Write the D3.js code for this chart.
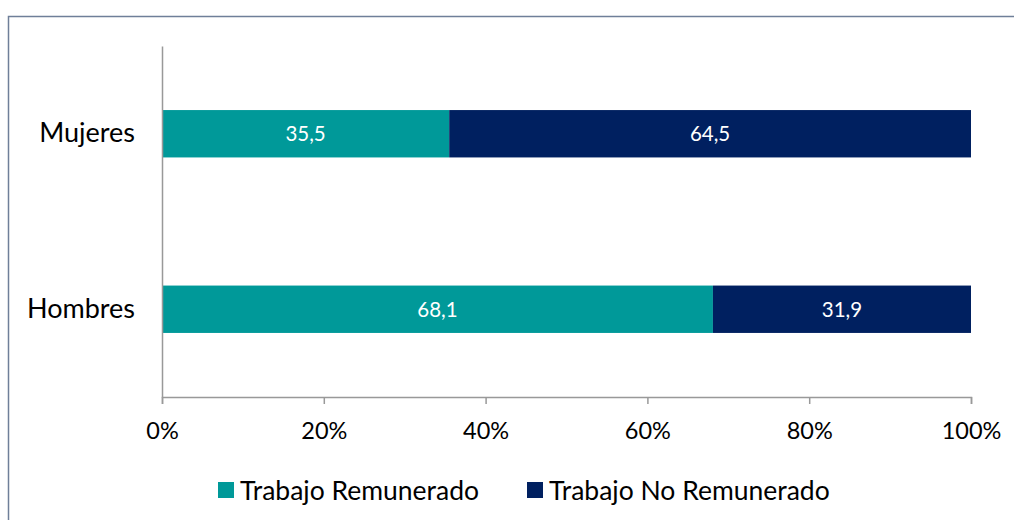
<!DOCTYPE html>
<html>
<head>
<meta charset="utf-8">
<script src="https://cdn.jsdelivr.net/npm/d3@7"></script>
<style>
  body { margin: 0; background: #fff; }
  text { font-family: Lato, "Open Sans", sans-serif; }
</style>
</head>
<body>
<div id="chart"></div>
<script>
// data
var categories = ["Mujeres", "Hombres"];
var seriesNames = ["Trabajo Remunerado", "Trabajo No Remunerado"];
var remunerado = [35.5, 68.1];
var noRemunerado = [64.5, 31.9];
var tickValues = [0, 0.2, 0.4, 0.6, 0.8, 1];
var colors = ["#009999", "#002060"];

var W = 1014, H = 520;
var margin = {top: 46, right: 43, bottom: 123, left: 162},
    width = W - margin.left - margin.right,
    height = H - margin.top - margin.bottom;

var svg = d3.select("#chart").append("svg")
    .attr("width", W)
    .attr("height", H);

// outer frame (right and bottom run off the picture)
svg.append("rect")
    .attr("x", 8.5).attr("y", 16.5)
    .attr("width", W + 20).attr("height", H + 20)
    .attr("fill", "none")
    .attr("stroke", "#6f7f99")
    .attr("stroke-width", 1.5);

var g = svg.append("g")
    .attr("transform", "translate(" + margin.left + "," + margin.top + ")");

var x = d3.scaleLinear().domain([0, 1]).range([0, width]);
var y = d3.scaleBand().domain(categories).range([0, height]).paddingInner(0.73).paddingOuter(0.365);

// build the stacked rows
var rows = categories.map(function(c, i) {
  return {cat: c, a: remunerado[i], b: noRemunerado[i]};
});
var stack = d3.stack().keys(["a", "b"]).offset(d3.stackOffsetExpand);
var layers = stack(rows);

var layer = g.selectAll(".layer")
    .data(layers)
  .enter().append("g")
    .attr("fill", function(d, i) { return colors[i]; });

layer.selectAll("rect")
    .data(function(d) { return d; })
  .enter().append("rect")
    .attr("x", function(d) { return x(d[0]); })
    .attr("y", function(d) { return y(d.data.cat); })
    .attr("width", function(d) { return x(d[1]) - x(d[0]); })
    .attr("height", y.bandwidth());

layer.each(function(L) {
  d3.select(this).selectAll("text")
    .data(L)
  .enter().append("text")
    .attr("x", function(d) { return (x(d[0]) + x(d[1])) / 2; })
    .attr("y", function(d) { return y(d.data.cat) + y.bandwidth() / 2; })
    .attr("dy", "0.36em")
    .attr("text-anchor", "middle")
    .attr("fill", "#fff")
    .style("font-size", "20.5px")
    .text(function(d) { return d.data[L.key].toFixed(1).replace(".", ","); });
});

// x axis
var xAxis = g.append("g")
    .attr("transform", "translate(0," + height + ")")
    .call(d3.axisBottom(x).tickValues(tickValues).tickSize(7).tickPadding(18)
      .tickFormat(function(d) { return Math.round(d * 100) + "%"; }));
xAxis.select(".domain").attr("stroke", "#999").attr("stroke-width", 1.5);
xAxis.selectAll(".tick line").attr("stroke", "#999").attr("stroke-width", 1.5);
xAxis.selectAll("text").attr("fill", "#000").style("font-size", "23.5px")
    .style("font-family", "Lato, sans-serif");

// y axis
var yAxis = g.append("g")
    .call(d3.axisLeft(y).tickSize(0).tickPadding(27));
yAxis.select(".domain").attr("stroke", "#999").attr("stroke-width", 1.5);
yAxis.selectAll("text").attr("fill", "#000").style("font-size", "27px")
    .style("font-family", "Lato, sans-serif");

// legend
var legendX = [218, 527];
var legend = svg.selectAll(".legend")
    .data(seriesNames)
  .enter().append("g")
    .attr("transform", function(d, i) { return "translate(" + legendX[i] + ",490)"; });
legend.append("rect")
    .attr("x", 0).attr("y", -8)
    .attr("width", 16).attr("height", 16)
    .attr("fill", function(d, i) { return colors[i]; });
legend.append("text")
    .attr("x", 22).attr("dy", "0.36em")
    .style("font-size", "26.5px")
    .attr("fill", "#000")
    .text(function(d) { return d; });
</script>
</body>
</html>
